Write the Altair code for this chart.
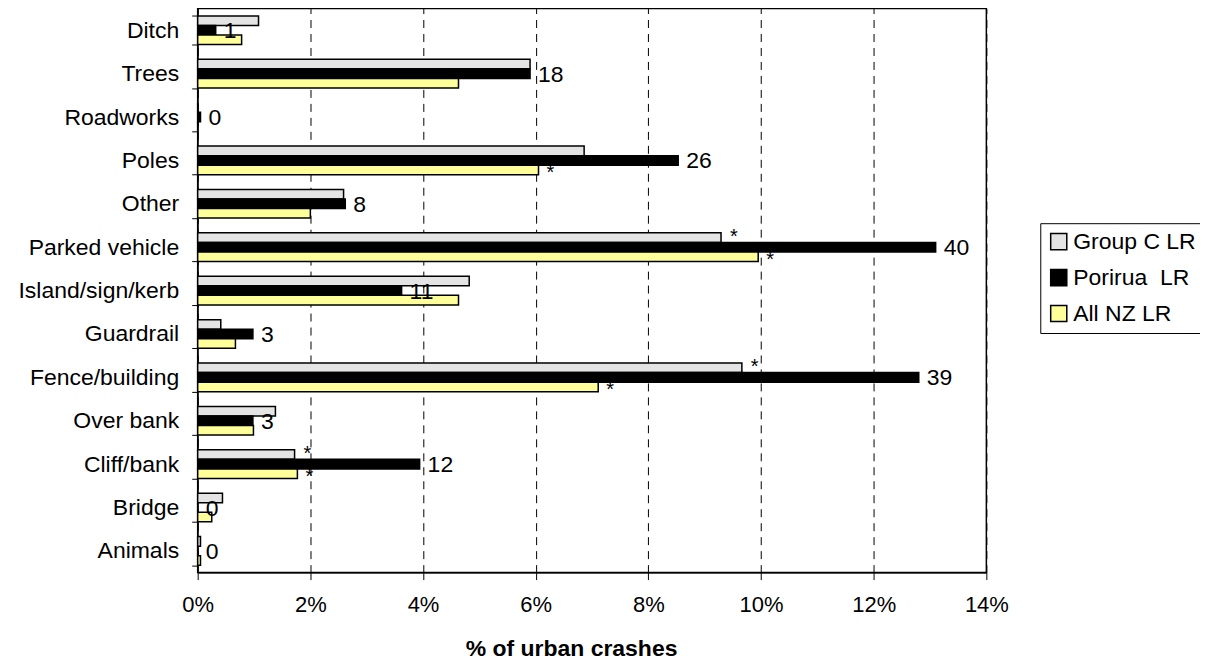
import altair as alt
import pandas as pd

categories = ["Ditch", "Trees", "Roadworks", "Poles", "Other", "Parked vehicle",
              "Island/sign/kerb", "Guardrail", "Fence/building", "Over bank",
              "Cliff/bank", "Bridge", "Animals"]
group_c = [1.08, 5.90, 0.0, 6.86, 2.59, 9.29, 4.82, 0.41, 9.66, 1.38, 1.72, 0.44, 0.05]
porirua = [0.32, 5.90, 0.05, 8.53, 2.62, 13.10, 3.62, 0.98, 12.80, 0.98, 3.94, 0.0, 0.0]
all_nz = [0.78, 4.63, 0.0, 6.05, 2.00, 9.95, 4.63, 0.67, 7.11, 0.99, 1.77, 0.25, 0.05]
porirua_counts = ["1", "18", "0", "26", "8", "40", "11", "3", "39", "3", "12", "0", "0"]
star_group_c = ["Parked vehicle", "Fence/building", "Cliff/bank"]
star_all_nz = ["Poles", "Parked vehicle", "Fence/building", "Cliff/bank"]

series = ["Group C LR", "Porirua\u00a0 LR", "All NZ LR"]
colors = ["#e4e4e4", "#000000", "#ffff99"]

rows = []
for i, c in enumerate(categories):
    for s, vals in zip(series, [group_c, porirua, all_nz]):
        rows.append({"cat": c, "series": s, "value": vals[i] / 100})
df = pd.DataFrame(rows)

lab = pd.DataFrame({"cat": categories, "series": series[1],
                    "value": [v / 100 for v in porirua], "label": porirua_counts})

sg = pd.DataFrame({"cat": star_group_c, "series": series[0],
                   "value": [group_c[categories.index(c)] / 100 for c in star_group_c]})
sa = pd.DataFrame({"cat": star_all_nz, "series": series[2],
                   "value": [all_nz[categories.index(c)] / 100 for c in star_all_nz]})

FONT = "Liberation Sans"
FS = 23

y = alt.Y("cat:N", sort=categories, title=None,
          scale=alt.Scale(paddingInner=0.34, paddingOuter=0.17),
          axis=alt.Axis(labelFontSize=FS, labelFont=FONT, labelColor="black",
                        labelPadding=13, tickBand="extent", tickSize=6,
                        tickColor="black", domainColor="black", grid=False))
yoff = alt.YOffset("series:N", sort=series, scale=alt.Scale(paddingInner=0, paddingOuter=0))
x = alt.X("value:Q", title="% of urban crashes",
          scale=alt.Scale(domain=[0, 0.14], nice=False),
          axis=alt.Axis(format=".0%", values=[0, 0.02, 0.04, 0.06, 0.08, 0.10, 0.12, 0.14],
                        labelFontSize=22, labelFont=FONT, labelColor="black",
                        labelFlush=False,
                        labelPadding=15, tickSize=7, tickColor="black",
                        domainColor="black", grid=True, gridColor="black",
                        gridDash=[8, 6], gridWidth=1,
                        titleFontSize=FS, titleFont=FONT, titleFontWeight="bold",
                        titlePadding=22, titleColor="black"))

bars = alt.Chart(df).mark_bar(stroke="black", strokeWidth=1.5).encode(
    y=y, yOffset=yoff, x=x,
    color=alt.Color("series:N", sort=series,
                    scale=alt.Scale(domain=series, range=colors),
                    legend=alt.Legend(title=None, orient="none", legendX=844, legendY=215,
                                      symbolType="square", symbolSize=260,
                                      symbolStrokeColor="black", symbolStrokeWidth=1.5,
                                      labelFontSize=FS, labelFont=FONT, labelColor="black",
                                      rowPadding=12, strokeColor="black", padding=7,
                                      fillColor="white", labelOffset=3)),
)

star_g = alt.Chart(sg).mark_text(text="*", align="left", baseline="middle",
                                 dx=9, dy=-1, fontSize=20, font=FONT, color="black").encode(
    y=y, yOffset=yoff, x=x)
star_a = alt.Chart(sa).mark_text(text="*", align="left", baseline="middle",
                                 dx=8, dy=3, fontSize=20, font=FONT, color="black").encode(
    y=y, yOffset=yoff, x=x)

labels = alt.Chart(lab).mark_text(align="left", baseline="middle", dx=8, dy=1,
                                  fontSize=FS, font=FONT, color="black").encode(
    y=y, yOffset=yoff, x=x, text="label:N")

chart = alt.layer(star_g, star_a, bars, labels).properties(
    width=790, height=565,
    autosize=alt.AutoSizeParams(type="none"),
    padding={"left": 190, "top": 0, "right": 214, "bottom": 91},
).configure_view(stroke="black", strokeWidth=1.5).configure_axisX(titleX=374)

chart.save("out.html", embed_options={"renderer": "svg", "actions": False})
